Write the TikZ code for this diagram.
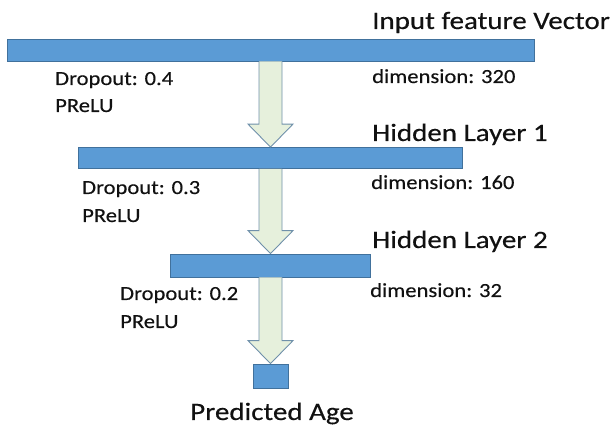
\documentclass[tikz,border=0pt]{standalone}
\usepackage{fontspec}
\setmainfont{Carlito}[FakeStretch=1.16,FakeBold=0.3]
\newfontfamily\notefont{Carlito}[FakeStretch=1.13,FakeBold=0.3]
\usetikzlibrary{calc}
\definecolor{barfill}{HTML}{5B9BD5}
\definecolor{barline}{HTML}{41719C}
\definecolor{arrfill}{HTML}{E6F0DC}
\definecolor{arrline}{HTML}{6F90AA}
\definecolor{txt}{HTML}{111111}
\newcommand{\blockarrowdraw}[2]{%
  \draw[blockarr] ($(#1.south)+(-11.5,0)$) -- ($(#2.north)+(-11.5,-23)$)
    -- ($(#2.north)+(-22.5,-23)$) -- (#2.north) -- ($(#2.north)+(22.5,-23)$)
    -- ($(#2.north)+(11.5,-23)$) -- ($(#1.south)+(11.5,0)$);}
\begin{document}
\begin{tikzpicture}[x=1pt,y=-1pt,
  layerbar/.style={rectangle,fill=barfill,draw=barline,line width=0.8pt,inner sep=0pt},
  blockarr/.style={fill=arrfill,draw=arrline,line width=0.9pt,line join=miter},
  title/.style={inner sep=0pt,anchor=base west,text=txt,font=\fontsize{25}{30}\selectfont},
  note/.style={inner sep=0pt,anchor=base west,text=txt,font=\notefont\fontsize{20}{24}\selectfont}]
\useasboundingbox (0,0) rectangle (614,427);
\node[layerbar,minimum width=527pt,minimum height=22pt] (b1) at (270.5,50) {};
\node[layerbar,minimum width=384pt,minimum height=21pt] (b2) at (270.5,158) {};
\node[layerbar,minimum width=200pt,minimum height=23pt] (b3) at (270.5,265.5) {};
\node[layerbar,minimum width=35pt,minimum height=24pt] (b4) at (270.5,376) {};
\blockarrowdraw{b1}{b2}
\blockarrowdraw{b2}{b3}
\blockarrowdraw{b3}{b4}
\node[title] (t1) at (372,29) {Input feature Vector};
\node[note] (d1) at (372,83) {dimension: 320};
\node[title] (t2) at (372,141) {Hidden Layer 1};
\node[note] (d2) at (371,189) {dimension: 160};
\node[title] (t3) at (372,248) {Hidden Layer 2};
\node[note] (d3) at (370,297) {dimension: 32};
\node[note] (p1) at (55,85) {Dropout: 0.4};
\node[note] (a1) at (55,112) {PReLU};
\node[note] (p2) at (82,194) {Dropout: 0.3};
\node[note] (a2) at (82,222) {PReLU};
\node[note] (p3) at (120,300) {Dropout: 0.2};
\node[note] (a3) at (120,328) {PReLU};
\node[title] (t4) at (190,420) {Predicted Age};
\end{tikzpicture}
\end{document}
